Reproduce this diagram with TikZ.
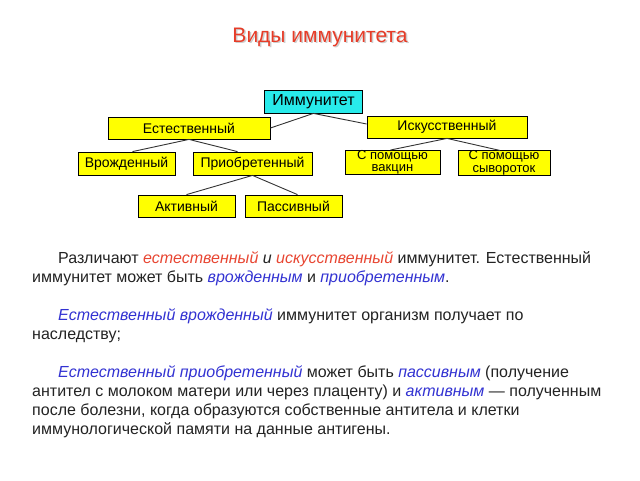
\documentclass[tikz,border=0pt]{standalone}
\usepackage{fontspec}
\setmainfont{Liberation Sans}
\definecolor{ttlred}{RGB}{230,60,40}
\definecolor{itred}{RGB}{232,70,50}
\definecolor{itblue}{RGB}{50,50,210}
\definecolor{bodygray}{RGB}{35,35,35}
\definecolor{boxyellow}{RGB}{255,255,0}
\definecolor{boxcyan}{RGB}{40,235,235}
\definecolor{shadowgray}{RGB}{205,205,205}
\newcommand{\rt}[1]{{\color{itred}\itshape #1}}
\newcommand{\bt}[1]{{\color{itblue}\itshape #1}}
\begin{document}
\begin{tikzpicture}[x=1pt,y=-1pt,
  box/.style={draw=black,line width=0.8pt,fill=boxyellow,inner sep=0pt,font=\fontsize{14}{10}\selectfont,align=center},
  twoline/.style={font=\fontsize{13}{12.5}\selectfont},
  conn/.style={draw=black!80,line width=0.9pt},
  line/.style={anchor=base west,inner sep=0pt,text=bodygray,font=\fontsize{16}{19}\selectfont}]
\useasboundingbox (0,0) rectangle (640,480);
\fill[white] (0,0) rectangle (640,480);
% title
\node[anchor=base,inner sep=0pt,text=shadowgray,font=\fontsize{21}{22}\selectfont] (ttlsh) at (321.5,43.5) {Виды иммунитета};
\node[anchor=base,inner sep=0pt,text=ttlred,font=\fontsize{21}{22}\selectfont] (ttl) at (320,42) {Виды иммунитета};
% boxes
\node[box,fill=boxcyan,minimum width=98,minimum height=23,font=\fontsize{16}{16}\selectfont] (imm) at (313.5,101.5) {Иммунитет};
\node[box,minimum width=162,minimum height=22] (est) at (189,128) {Естественный};
\node[box,minimum width=160,minimum height=22] (isk) at (447,127) {Искусственный};
\node[box,minimum width=97,minimum height=23] (vro) at (126.5,163.5) {Врожденный};
\node[box,minimum width=119,minimum height=23] (pri) at (252.5,163.5) {Приобретенный};
\node[box,twoline,minimum width=95,minimum height=21] (vak) at (392.5,162.5) {С помощью\\вакцин};
\node[box,twoline,minimum width=92,minimum height=22] (syv) at (504,163) {С помощью\\сывороток};
\node[box,minimum width=97,minimum height=22] (akt) at (186.5,206) {Активный};
\node[box,minimum width=97,minimum height=22] (pas) at (293.5,206) {Пассивный};
% connectors
\draw[conn] (imm.south) -- (est.east);
\draw[conn] (imm.south) -- ([yshift=3]isk.west);
\draw[conn] (est.south) -- ([xshift=6]vro.north);
\draw[conn] (est.south) -- ([xshift=-15]pri.north);
\draw[conn] (isk.south) -- ([xshift=-2]vak.north);
\draw[conn] (isk.south) -- ([xshift=-4]syv.north);
\draw[conn] (pri.south) -- (akt.north);
\draw[conn] (pri.south) -- ([xshift=4]pas.north);
% body text
\node[line] (l1) at (58,263) {Различают \rt{естественный} {\itshape и} \rt{искусственный} иммунитет. Естественный};
\node[line] (l2) at (32,282) {иммунитет может быть \bt{врожденным} и \bt{приобретенным}.};
\node[line] (l3) at (58,320) {\bt{Естественный врожденный} иммунитет организм получает по};
\node[line] (l4) at (32,339) {наследству;};
\node[line] (l5) at (58,377) {\bt{Естественный приобретенный} может быть \bt{пассивным} (получение};
\node[line] (l6) at (32,396) {антител с молоком матери или через плаценту) и \bt{активным} — полученным};
\node[line] (l7) at (32,415) {после болезни, когда образуются собственные антитела и клетки};
\node[line] (l8) at (32,434) {иммунологической памяти на данные антигены.};
\end{tikzpicture}
\end{document}
